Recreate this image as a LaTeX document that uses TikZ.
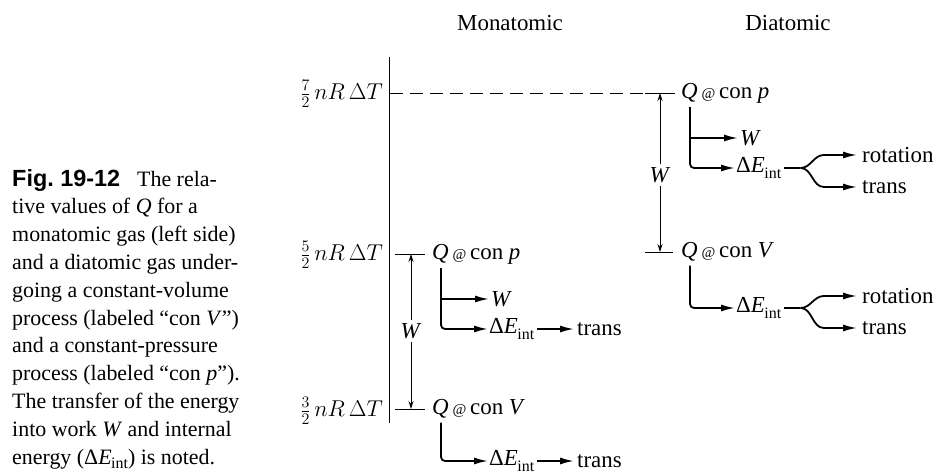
\RequirePackage{fix-cm}
\documentclass[tikz,border=0pt]{standalone}
\usepackage{amsmath}
\usepackage{fontspec}
\setmainfont{Liberation Serif}
\newfontfamily\figsans{Liberation Sans}
\usetikzlibrary{arrows.meta}
\newcommand\smallat{{\fontsize{15}{15}\selectfont @}}
\newcommand\dEint{Δ\textit{E}\kern-0.5pt\raisebox{-0.22em}{\fontsize{16}{16}\selectfont int}}
\tikzset{
  lbl/.style={inner sep=0pt, anchor=west},
  thinline/.style={line width=0.8bp},
  warrow/.style={line width=0.8bp, -{Stealth[length=8bp,width=5bp]}},
  brarrow/.style={line width=1.8bp, rounded corners=4bp, -{Latex[length=14bp,width=7bp]}},
  forkline/.style={line width=1.8bp},
  forkarrow/.style={line width=1.8bp, -{Latex[length=14bp,width=7bp]}},
  wlabel/.style={fill=white, inner sep=3bp},
}
\begin{document}
\begin{tikzpicture}[x=1bp,y=-1bp, font=\fontsize{23}{27.9}\selectfont]
\useasboundingbox (0,0) rectangle (939,475);

% caption
\node[anchor=north west, inner sep=0pt, align=left, font=\fontsize{22}{27.9}\selectfont] (cap) at (12,169)
 {{\figsans\bfseries\fontsize{23.5}{27.9}\selectfont Fig.~19-12}\hspace{17bp}The rela-\\
  tive values of \textit{Q} for a\\
  monatomic gas (left side)\\
  and a diatomic gas under-\\
  going a constant-volume\\
  process (labeled “con \textit{V}”)\\
  and a constant-pressure\\
  process (labeled “con \textit{p}”).\\
  The transfer of the energy\\
  into work \textit{W} and internal\\
  energy (\dEint) is noted.};

% headings
\node (hmono) at (510,23) {Monatomic};
\node (hdia) at (788,23) {Diatomic};

% axis
\coordinate (axT) at (389,57);
\coordinate (axB) at (389,423);
\draw[thinline] (axT) -- (axB);
\node[anchor=east, inner sep=0pt] (l7) at (383,94) {$\tfrac{7}{2}\,nR\,\Delta T$};
\node[anchor=east, inner sep=0pt] (l5) at (383,255) {$\tfrac{5}{2}\,nR\,\Delta T$};
\node[anchor=east, inner sep=0pt] (l3) at (383,411) {$\tfrac{3}{2}\,nR\,\Delta T$};

% ticks
\coordinate (ax7) at (390,93);
\coordinate (dT1a) at (645,93);
\coordinate (dT1b) at (675,93);
\coordinate (dT2a) at (645,252);
\coordinate (dT2b) at (673,252);
\coordinate (mT1a) at (395,254);
\coordinate (mT1b) at (425,254);
\coordinate (mT2a) at (395,409);
\coordinate (mT2b) at (425,409);
\draw[thinline, dash pattern=on 13.3bp off 6.7bp] (ax7) -- (dT1a);
\draw[thinline] (dT1a) -- (dT1b);
\draw[thinline] (dT2a) -- (dT2b);
\draw[thinline] (mT1a) -- (mT1b);
\draw[thinline] (mT2a) -- (mT2b);

% W arrows
\node[wlabel] (mWl) at (411,331) {\textit{W}};
\draw[warrow] (mWl) -- (mWl |- mT1a);
\draw[warrow] (mWl) -- (mWl |- mT2a);
\node[wlabel] (dWl) at (660,175) {\textit{W}};
\draw[warrow] (dWl) -- (dWl |- dT1a);
\draw[warrow] (dWl) -- (dWl |- dT2a);

% monatomic con p
\node[lbl] (mpQ) at (432,254) {\textit{Q}\,\smallat\,con \textit{p}};
\node[lbl] (mpW) at (491,299) {\textit{W}};
\node[lbl] (mpE) at (489,329) {\dEint};
\node[lbl] (mpT) at (577,329) {trans};
\coordinate (mpB) at ([xshift=9bp,yshift=-4bp]mpQ.south west);
\draw[brarrow] (mpB) |- ([xshift=-1bp]mpE.west);
\draw[brarrow] (mpB |- mpW.west) -- ([xshift=-2bp]mpW.west);
\draw[brarrow] ([xshift=3bp]mpE.east) -- ([xshift=-3bp]mpE.east -| mpT.west);

% monatomic con V
\node[lbl] (mvQ) at (432,409) {\textit{Q}\,\smallat\,con \textit{V}};
\node[lbl] (mvE) at (489,461) {\dEint};
\node[lbl] (mvT) at (577,461) {trans};
\coordinate (mvB) at ([xshift=9bp,yshift=-4bp]mvQ.south west);
\draw[brarrow] (mvB) |- ([xshift=-1bp]mvE.west);
\draw[brarrow] ([xshift=3bp]mvE.east) -- ([xshift=-3bp]mvE.east -| mvT.west);

% diatomic con p
\node[lbl] (dpQ) at (681,93) {\textit{Q}\,\smallat\,con \textit{p}};
\node[lbl] (dpW) at (740,138) {\textit{W}};
\node[lbl] (dpE) at (736,168) {\dEint};
\node[lbl] (dpR) at (862,155) {rotation};
\node[lbl] (dpT) at (862,187) {trans};
\coordinate (dpB) at ([xshift=9bp,yshift=-4bp]dpQ.south west);
\draw[brarrow] (dpB) |- ([xshift=-1bp]dpE.west);
\draw[brarrow] (dpB |- dpW.west) -- ([xshift=-2bp]dpW.west);
\coordinate (dpJ0) at ([xshift=3bp]dpE.east);
\coordinate (dpJ) at ([xshift=19bp]dpE.east);
\draw[forkline] (dpJ0) -- (dpJ);
\draw[forkarrow] (dpJ) to[out=0,in=180] ([xshift=-38bp]dpR.west) -- ([xshift=-5bp]dpR.west);
\draw[forkarrow] (dpJ) to[out=0,in=180] ([xshift=-38bp]dpT.west) -- ([xshift=-5bp]dpT.west);

% diatomic con V
\node[lbl] (dvQ) at (681,252) {\textit{Q}\,\smallat\,con \textit{V}};
\node[lbl] (dvE) at (736,308) {\dEint};
\node[lbl] (dvR) at (862,296) {rotation};
\node[lbl] (dvT) at (862,328) {trans};
\coordinate (dvB) at ([xshift=9bp,yshift=-4bp]dvQ.south west);
\draw[brarrow] (dvB) |- ([xshift=-1bp]dvE.west);
\coordinate (dvJ0) at ([xshift=3bp]dvE.east);
\coordinate (dvJ) at ([xshift=19bp]dvE.east);
\draw[forkline] (dvJ0) -- (dvJ);
\draw[forkarrow] (dvJ) to[out=0,in=180] ([xshift=-38bp]dvR.west) -- ([xshift=-5bp]dvR.west);
\draw[forkarrow] (dvJ) to[out=0,in=180] ([xshift=-38bp]dvT.west) -- ([xshift=-5bp]dvT.west);
\end{tikzpicture}
\end{document}
